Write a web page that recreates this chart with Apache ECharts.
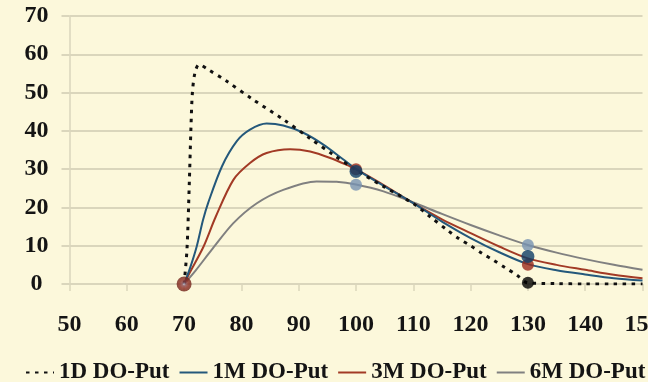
<!DOCTYPE html>
<html>
<head>
<meta charset="utf-8">
<script src="https://cdn.jsdelivr.net/npm/echarts@6/dist/echarts.min.js"></script>
<style>
  html, body { margin: 0; padding: 0; background: #ffffff; }
  #chart { width: 648px; height: 382px; }
</style>
</head>
<body>
<div id="chart"></div>
<script>
// Down-and-out put values across spot levels, one curve per maturity
const seriesNames = ['1D DO-Put', '1M DO-Put', '3M DO-Put', '6M DO-Put'];

const spot1D = [70, 70.5, 70.9, 71.2, 71.45, 71.9, 72.6, 74.2, 77.4, 82, 87.3, 92, 96, 100, 105, 110, 113, 116, 118, 120, 122, 124, 126, 128, 130, 135, 140, 145, 150];
const value1D = [0, 9, 26, 41, 50, 55.2, 57.3, 56, 53, 48.2, 43, 38, 33.8, 29.8, 25.3, 21, 17.5, 14, 11.8, 10, 8, 6.2, 4.3, 2.4, 0.3, 0.1, 0, 0, 0];

const spot1M = [70, 71, 72.2, 73.3, 74.2, 76.6, 79.2, 81.5, 84.4, 87.3, 90.8, 94.3, 97.8, 100, 105, 110, 115, 120, 125, 130, 135, 140, 145, 150];
const value1M = [0, 4, 9.8, 16.7, 21.2, 30.7, 37.3, 40.3, 41.9, 41.4, 39.5, 36.4, 32.5, 30, 25.5, 21.1, 16.3, 12, 8.3, 5.2, 3.6, 2.5, 1.5, 0.9];

const spot3M = [70, 71, 73.4, 75.5, 78.6, 81.5, 84.4, 88.5, 92, 95.5, 99, 100, 104.2, 110, 115, 120, 125, 130, 135, 140, 145, 150];
const value3M = [0, 3, 9.8, 17.5, 27.2, 31.6, 34.2, 35.2, 34.6, 32.9, 30.7, 30, 26.4, 21.1, 16.9, 13.3, 9.8, 6.7, 5, 3.7, 2.4, 1.5];

const spot6M = [70, 72, 74.8, 78.6, 82.7, 87.3, 93.1, 96.6, 100, 104.8, 110, 115, 120, 125, 130, 135, 140, 145, 150];
const value6M = [0, 3.5, 8.9, 15.9, 21.1, 24.6, 26.8, 26.7, 26, 24.2, 21.3, 18.3, 15.4, 12.7, 10.2, 8.2, 6.5, 5, 3.7];

// Highlighted points at selected spot levels
const markSpot1D = [130];
const markValue1D = [0.3];
const markSpot1M = [100, 130];
const markValue1M = [29.4, 7.2];
const markSpot3M = [70, 100, 130];
const markValue3M = [0, 30, 5];
const markSpot6M = [100, 130];
const markValue6M = [25.9, 10.2];

const xTicks = { min: 50, max: 150, step: 10 };
const yTicks = { min: 0, max: 70, step: 10 };

const pairs = (xs, ys) => xs.map((x, i) => [x, ys[i]]);

const labelFont = { fontFamily: 'Liberation Serif', fontWeight: 'bold', fontSize: 24, color: '#141414' };
const legendFont = Object.assign({}, labelFont, { fontSize: 23 });
const gridColor = '#dad6bc';

const lineColors = ['#111111', '#24587b', '#a23a25', '#808080'];
const markColors = ['#000000', '#0e3d66', '#9b2a1c', '#7792b2'];

function lineSeries(name, xs, ys, color, style) {
  return {
    name: name, type: 'line', data: pairs(xs, ys),
    symbol: 'none', smooth: 0.3,
    lineStyle: Object.assign({ color: color, width: 2 }, style || {}),
    itemStyle: { color: color },
    z: 2
  };
}

function markSeries(name, xs, ys, color, size) {
  return {
    name: name, type: 'scatter', data: pairs(xs, ys),
    symbol: 'circle', symbolSize: size,
    itemStyle: { color: color },
    z: 3
  };
}

const marks3M = pairs(markSpot3M, markValue3M).map(p => p[0] === 70 ? {
  value: p, symbolSize: 15,
  itemStyle: {
    color: { type: 'radial', x: 0.5, y: 0.5, r: 0.5,
      colorStops: [{ offset: 0, color: '#c4cfe4' }, { offset: 0.25, color: '#8a4a52' }, { offset: 0.6, color: '#8c2a20' }, { offset: 1, color: '#6e2219' }] }
  }
} : p);

const chart = echarts.init(document.getElementById('chart'));
chart.setOption({
  backgroundColor: '#fcf8db',
  animation: false,
  grid: { left: 69.5, right: 5.5, top: 16, bottom: 98, containLabel: false, outerBoundsMode: 'none' },
  legend: {
    data: seriesNames,
    left: 20, top: 356, width: 700,
    itemWidth: 28, itemHeight: 14, itemGap: 9,
    itemStyle: { opacity: 0 },
    textStyle: legendFont
  },
  xAxis: {
    type: 'value', min: xTicks.min, max: xTicks.max, interval: xTicks.step,
    axisLine: { show: false },
    axisTick: { show: true, length: 7, lineStyle: { color: gridColor, width: 1.5 } },
    splitLine: { show: false },
    axisLabel: Object.assign({ margin: 29 }, labelFont)
  },
  yAxis: {
    type: 'value', min: yTicks.min, max: yTicks.max, interval: yTicks.step,
    axisLine: { show: true, lineStyle: { color: gridColor, width: 1.5 } },
    axisTick: { show: true, length: 8, lineStyle: { color: gridColor, width: 2 } },
    splitLine: { show: true, lineStyle: { color: gridColor, width: 2 } },
    axisLabel: Object.assign({ margin: 33, align: 'center' }, labelFont)
  },
  series: [
    lineSeries(seriesNames[3], spot6M, value6M, lineColors[3]),
    lineSeries(seriesNames[2], spot3M, value3M, lineColors[2]),
    lineSeries(seriesNames[1], spot1M, value1M, lineColors[1]),
    lineSeries(seriesNames[0], spot1D, value1D, lineColors[0], { width: 3, type: [3.5, 5.5] }),
    markSeries('1D marks', markSpot1D, markValue1D, markColors[0], 12),
    markSeries('6M marks', markSpot6M, markValue6M, markColors[3], 12),
    Object.assign(markSeries('3M marks', markSpot3M, markValue3M, markColors[2], 12), { data: marks3M }),
    markSeries('1M marks', markSpot1M, markValue1M, markColors[1], 13)
  ]
});
</script>
</body>
</html>
